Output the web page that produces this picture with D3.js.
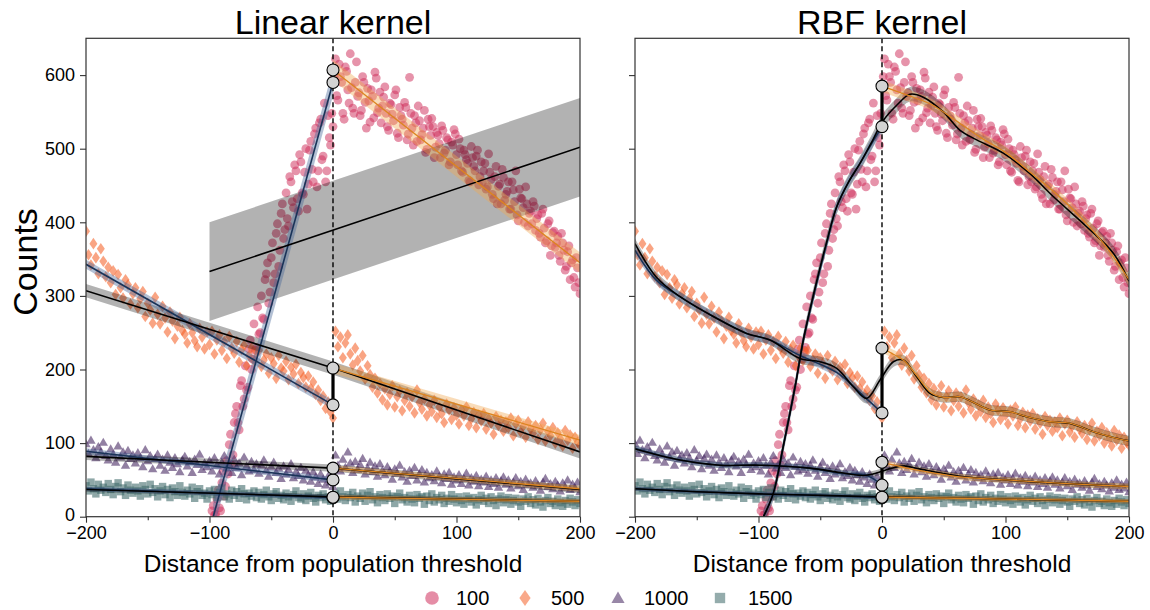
<!DOCTYPE html>
<html><head><meta charset="utf-8">
<script src="https://cdn.jsdelivr.net/npm/d3@7"></script>
<style>body{margin:0;background:#fff}svg{font-family:"Liberation Sans",Arial,sans-serif}</style>
</head><body><svg id="c" width="1150" height="610"></svg>
<script>
// ---------- data ----------
const seriesNames = ["100", "500", "1000", "1500"];
const seriesColors = ["#cf2f5c", "#f4632a", "#44255f", "#3d6868"];
const xTicks = [-200, -100, 0, 100, 200];
const xMinorTicks = [-150, -50, 50, 150];
const yTicks = [0, 100, 200, 300, 400, 500, 600];
const panelTitles = ["Linear kernel", "RBF kernel"];

const dist100 = d3.range(-98, 201, 2);
const dist100Odd = d3.range(-97, 200, 2);
const distAll = d3.range(-200, 201, 2);

const counts100 = [8,2,24,12,46,28,76,98,70,128,
 150,118,185,160,172,228,200,262,230,248,
 300,268,330,290,352,318,385,340,412,378,
 440,395,455,420,470,415,482,438,500,452,
 510,455,528,470,540,490,455,545,505,530,
 622,566,598,548,611,580,629,555,590,571,
 545,598,563,582,536,571,604,549,577,558,
 584,530,562,547,573,521,556,540,563,512,
 597,528,545,510,538,519,552,499,530,541,
 488,522,507,531,494,515,478,509,526,492,
 513,470,498,485,457,503,476,490,451,482,
 470,445,493,458,432,476,449,425,461,438,
 455,418,444,470,402,433,420,448,395,415,
 428,389,410,380,418,372,398,355,386,366,
 381,347,372,335,360,322,349,312,338,303];

const counts100Odd = [15,3,36,8,62,41,58,112,84,140,
 128,178,150,205,176,240,214,226,285,250,
 270,322,345,305,372,330,398,362,425,390,
 405,462,428,478,432,492,440,468,418,498,
 472,520,448,535,485,562,470,515,548,
 598,572,615,590,540,605,562,583,548,618,
 576,552,590,528,565,580,542,596,555,535,
 570,548,525,560,538,580,515,545,532,556,
 520,548,505,535,558,512,528,495,540,518,
 530,502,518,488,525,498,512,482,505,520,
 478,500,468,492,480,455,488,470,498,462,
 455,480,448,468,438,462,425,452,472,430,
 442,418,455,428,410,445,432,400,425,412,
 398,422,405,385,412,392,375,402,368,388,
 372,355,385,362,340,368,345,325,352,318];

const counts500 = [388,356,342,371,352,330,364,347,326,339,
 318,334,302,329,311,297,322,315,289,303,
 311,284,296,306,272,290,281,263,298,275,
 262,286,270,251,278,266,242,259,271,253,
 248,236,262,250,239,231,256,244,228,251,
 234,252,221,240,247,226,238,215,245,229,
 222,238,210,227,233,205,219,229,212,224,
 226,204,213,221,195,216,208,188,219,202,
 198,211,186,203,194,207,181,196,189,176,
 191,174,183,166,172,158,164,147,156,142,
 134,
 252,231,244,216,236,247,221,206,229,212,
 198,219,187,205,193,176,188,168,181,159,
 174,152,166,178,149,163,171,144,158,168,
 150,163,141,172,155,146,160,137,152,143,
 158,135,149,140,128,153,145,132,148,138,
 126,145,137,149,124,133,142,121,138,130,
 140,119,133,127,112,136,124,131,116,129,
 121,134,110,126,131,115,123,108,129,119,
 113,124,105,118,127,103,116,110,121,100,
 114,106,96,117,104,111,93,108,101,97];

const counts1000 = [99,86,104,91,80,95,88,101,83,77,
 92,85,74,96,81,88,70,90,79,84,
 73,87,80,68,91,76,83,65,79,85,
 70,78,63,84,74,67,80,72,61,77,
 82,69,75,60,78,71,85,64,73,68,
 76,62,80,70,58,74,83,66,71,60,
 78,67,73,57,81,69,62,75,64,72,
 59,70,77,63,55,68,74,60,66,52,
 69,58,64,72,53,61,56,67,50,63,
 57,48,61,54,45,58,51,43,55,47,
 41,
 84,70,62,78,67,88,73,60,75,64,
 71,79,58,66,74,61,69,55,72,63,
 57,68,62,51,65,59,70,54,61,48,
 63,56,67,50,58,64,47,60,53,57,
 49,62,55,46,58,52,60,44,54,50,
 57,45,52,59,43,53,48,56,42,51,
 47,55,41,50,45,53,40,49,54,44,
 50,39,47,53,42,48,37,51,44,46,
 40,49,43,36,47,52,41,45,38,48,
 43,35,46,40,50,37,44,39,47,34];

const counts1500 = [42,35,47,38,31,44,36,40,33,45,
 37,30,41,46,34,39,29,43,36,32,
 40,35,28,42,37,31,44,33,38,27,
 35,41,30,37,26,39,34,29,42,33,
 28,36,31,40,25,34,38,29,32,24,
 35,30,37,26,33,39,27,31,24,36,
 29,34,25,38,31,23,32,28,35,26,
 33,24,30,36,27,22,31,34,25,29,
 23,32,27,21,30,35,26,24,31,22,
 28,33,25,20,29,26,31,23,27,21,
 25,
 31,24,35,27,22,30,26,33,20,28,
 25,32,21,29,34,23,27,19,30,26,
 22,31,25,28,18,27,32,23,26,20,
 29,24,19,30,25,27,17,28,22,31,
 20,26,23,29,18,25,21,30,24,19,
 27,22,17,28,24,20,26,16,23,29,
 21,25,18,27,22,15,24,28,19,23,
 26,17,22,25,20,14,24,21,27,18,
 23,16,25,20,13,22,26,18,21,15,
 24,19,14,22,17,25,20,15,23,18];

// Linear-kernel fits: [distance, count]
const linLeft100 = [[-97,0],[0,590]];
const linRight100 = [[0,607],[200,345]];
const linGlobal100 = [[-100,333],[200,502]];
const linLeft500 = [[-200,343],[0,152]];
const linRight500 = [[0,202],[200,104]];
const linGlobal500 = [[-200,307],[0,202],[200,88]];
const linLeft1000 = [[-200,89],[0,50]];
const linRight1000 = [[0,66],[200,38]];
const linGlobal1000 = [[-200,82],[0,66],[200,37]];
const linLeft1500 = [[-200,38],[0,26]];
const linRight1500 = [[0,26.5],[200,21]];
const linGlobal1500 = [[-200,37],[0,27],[200,21]];
const linBandLeft = [18, 6, 4, 3];
const linBandRight = [14, 7, 4, 3];
const linBandGlobal = [67, 9, 5, 3];

// RBF-kernel fits
const rbfLeft100 = [[-96,0],[-88,32],[-80,95],[-70,180],[-63.7,240],[-54,310],[-45,370],[-36.7,421],[-27,455],[-17.8,480],[-8,508],[0,530]];
const rbfRight100 = [[0,585],[20,573],[40,560],[60,538],[80,515],[100,495],[120,468],[140,440],[160,408],[180,370],[200,322]];
const rbfGlobal100 = [[-96,0],[-88,32],[-80,95],[-70,180],[-63.7,240],[-54.3,310],[-45,372],[-36.7,421],[-27,455],[-17.8,480],[-8,510],[0.5,537],[11.9,559],[22.7,574],[33.4,570],[49.6,550],[63.2,525],[76.7,512],[98.2,494],[119.8,466],[138.7,435],[165.7,394],[187.3,358],[200,320]];
const rbfLeft500 = [[-200,362],[-182.5,321],[-163.6,299],[-136.6,272],[-109.6,249],[-90.7,240],[-66.4,219],[-36.7,196],[-12.4,160],[0,141]];
const rbfRight500 = [[0,229],[10,220],[18,212],[28,192],[40,168],[50,162],[63,163],[72,157],[87.5,145],[103.6,142.6],[117,136],[136,129],[152,127],[171,115.5],[190,106.5],[200,103]];
const rbfGlobal500 = [[-200,371],[-182.5,325],[-163.6,299],[-136.6,272],[-109.6,249],[-90.7,240],[-66.4,215],[-50.2,210.5],[-36.7,201.5],[-23.2,176.6],[-12.4,160.8],[-1.6,185.7],[9.2,210.5],[17.3,212.8],[28.1,190],[38.9,167.6],[49.6,162],[63.2,163],[71.3,157.6],[87.5,145],[103.6,142.6],[117.2,135.8],[136,129],[152.2,126.8],[171.1,115.5],[190,106.5],[200,103]];
const rbfLeft1000 = [[-200,93],[-163.6,77],[-131.2,70],[-98.8,70],[-58.3,65.7],[-34,59],[-12.4,56],[0,43]];
const rbfRight1000 = [[0,74],[20,66],[40,60],[63,54],[100,50],[150,45],[200,41]];
const rbfGlobal1000 = [[-200,92],[-163.6,77],[-131.2,70],[-98.8,70],[-58.3,66],[-34,60],[-15,56],[-3,60],[8,66],[18,69],[30,65],[63,55],[100,50],[150,45],[200,41]];
const rbfLeft1500 = [[-200,38],[-150,34],[-100,31],[-50,29],[0,26]];
const rbfRight1500 = [[0,26.5],[100,24],[200,21]];
const rbfGlobal1500 = [[-200,38],[-150,34],[-100,31],[-50,29],[0,27],[100,24],[200,21]];
const rbfBandLeft = [8, 6, 4, 3];
const rbfBandRight = [8, 6, 4, 3];
const rbfBandGlobal = [10, 7, 4, 3];

// ---------- layout ----------
const svg = d3.select("#c");
const yTop = 38.3, yBot = 516.7;
const y = d3.scaleLinear([0, 650], [yBot, yTop]);
const FONT = '"Liberation Sans", Arial, sans-serif';

const seriesPoints = [
  dist100.map((d, i) => [d, counts100[i]]).concat(dist100Odd.map((d, i) => [d, counts100Odd[i]])),
  distAll.map((d, i) => [d, counts500[i]]),
  distAll.map((d, i) => [d, counts1000[i]]),
  distAll.map((d, i) => [d, counts1500[i]])
];

function shapePath(i, s) {
  s = s || 1;
  if (i === 0) return d3.symbol(d3.symbolCircle, Math.PI * (4.4 * s) ** 2)();
  if (i === 1) return `M0,${-5.8*s}L${4*s},0L0,${5.8*s}L${-4*s},0Z`;
  if (i === 2) return `M0,${-4.7*s}L${4.7*s},${3.5*s}L${-4.7*s},${3.5*s}Z`;
  return `M${-3.7*s},${-3.7*s}h${7.4*s}v${7.4*s}h${-7.4*s}Z`;
}

const panels = [
  { id: 0, left: 86, right: 580, labels: true, curve: d3.curveLinear,
    L: [linLeft100, linLeft500, linLeft1000, linLeft1500],
    R: [linRight100, linRight500, linRight1000, linRight1500],
    G: [linGlobal100, linGlobal500, linGlobal1000, linGlobal1500],
    bL: linBandLeft, bR: linBandRight, bG: linBandGlobal },
  { id: 1, left: 635, right: 1129, labels: false, curve: d3.curveCatmullRom.alpha(0.5),
    L: [rbfLeft100, rbfLeft500, rbfLeft1000, rbfLeft1500],
    R: [rbfRight100, rbfRight500, rbfRight1000, rbfRight1500],
    G: [rbfGlobal100, rbfGlobal500, rbfGlobal1000, rbfGlobal1500],
    bL: rbfBandLeft, bR: rbfBandRight, bG: rbfBandGlobal }
];

const defs = svg.append("defs");

panels.forEach(p => {
  const x = d3.scaleLinear([-200, 200], [p.left, p.right]);
  const cid = "clip" + p.id;
  defs.append("clipPath").attr("id", cid).append("rect")
    .attr("x", p.left).attr("y", yTop).attr("width", p.right - p.left).attr("height", yBot - yTop);
  const g = svg.append("g");
  const plot = g.append("g").attr("clip-path", `url(#${cid})`);

  // scatter
  seriesPoints.forEach((pts, i) => {
    plot.append("g").selectAll("path").data(pts).join("path")
      .attr("d", shapePath(i))
      .attr("transform", d => `translate(${x(d[0])},${y(d[1])})`)
      .attr("fill", seriesColors[i]).attr("fill-opacity", i === 0 ? 0.52 : 0.58);
  });

  const band = hw => d3.area().x(d => x(d[0])).y0(d => y(d[1] - hw)).y1(d => y(d[1] + hw)).curve(p.curve);
  const line = d3.line().x(d => x(d[0])).y(d => y(d[1])).curve(p.curve);

  // bands
  p.G.forEach((f, i) => plot.append("path").attr("d", band(p.bG[i])(f)).attr("fill", "#000").attr("fill-opacity", 0.3));
  p.L.forEach((f, i) => plot.append("path").attr("d", band(p.bL[i])(f)).attr("fill", "#4a6a99").attr("fill-opacity", 0.42));
  p.R.forEach((f, i) => plot.append("path").attr("d", band(p.bR[i])(f)).attr("fill", "#f0a850").attr("fill-opacity", 0.4));

  // lines
  p.L.forEach(f => plot.append("path").attr("d", line(f)).attr("fill", "none").attr("stroke", "#1a3358").attr("stroke-width", 1.6));
  p.G.forEach(f => plot.append("path").attr("d", line(f)).attr("fill", "none").attr("stroke", "#000").attr("stroke-width", 1.6));
  p.R.forEach(f => plot.append("path").attr("d", line(f)).attr("fill", "none").attr("stroke", "#dc8420").attr("stroke-width", 1.3));

  // dashed cutoff
  plot.append("line").attr("x1", x(0)).attr("x2", x(0)).attr("y1", yTop).attr("y2", yBot)
    .attr("stroke", "#000").attr("stroke-width", 1.4).attr("stroke-dasharray", "5,3");

  // jumps
  p.L.forEach((f, i) => {
    const a = f[f.length - 1][1], b = p.R[i][0][1];
    plot.append("line").attr("x1", x(0)).attr("x2", x(0)).attr("y1", y(a)).attr("y2", y(b))
      .attr("stroke", "#000").attr("stroke-width", 3.2);
  });
  p.L.forEach((f, i) => {
    [f[f.length - 1][1], p.R[i][0][1]].forEach(v => {
      plot.append("circle").attr("cx", x(0)).attr("cy", y(v)).attr("r", 6)
        .attr("fill", "#d3d3d3").attr("stroke", "#000").attr("stroke-width", 1.1);
    });
  });

  // axes
  const xa = g.append("g").attr("transform", `translate(0,${yBot})`)
    .call(d3.axisBottom(x).tickValues(xTicks).tickSize(6).tickPadding(4).tickSizeOuter(0));
  xa.selectAll("text").attr("font-size", 18).attr("font-family", FONT).attr("fill", "#000");
  g.append("g").attr("transform", `translate(0,${yBot})`)
    .call(d3.axisBottom(x).tickValues(xMinorTicks).tickSize(3.5).tickFormat("").tickSizeOuter(0));
  const ya = g.append("g").attr("transform", `translate(${p.left},0)`)
    .call(d3.axisLeft(y).tickValues(yTicks).tickSize(6).tickPadding(5).tickSizeOuter(0)
      .tickFormat(p.labels ? d3.format("d") : ""));
  ya.selectAll("text").attr("font-size", 18).attr("font-family", FONT).attr("fill", "#000");
  ya.selectAll(".tick").filter(d => d === 0).select("text").attr("dy", "0.22em");
  g.selectAll(".domain").remove();
  g.selectAll(".tick line").attr("stroke", "#333").attr("stroke-width", 1.1);

  // frame
  g.append("rect").attr("x", p.left).attr("y", yTop).attr("width", p.right - p.left).attr("height", yBot - yTop)
    .attr("fill", "none").attr("stroke", "#333").attr("stroke-width", 1.2);

  // titles
  const cx = (p.left + p.right) / 2;
  g.append("text").attr("x", cx).attr("y", 34).attr("text-anchor", "middle")
    .attr("font-size", 34).attr("font-family", FONT).text(panelTitles[p.id]);
  g.append("text").attr("x", cx).attr("y", 572).attr("text-anchor", "middle")
    .attr("font-size", 24.5).attr("font-family", FONT).text("Distance from population threshold");
});

// y label
svg.append("text").attr("transform", "translate(37,262) rotate(-90)").attr("text-anchor", "middle")
  .attr("font-size", 34).attr("font-family", FONT).text("Counts");

// legend
const legX = [432, 525, 618, 720];
const legTX = [456, 551, 644, 748];
const leg = svg.append("g");
seriesNames.forEach((n, i) => {
  leg.append("path").attr("d", shapePath(i, i === 0 ? 1.55 : 1.4))
    .attr("transform", `translate(${legX[i]},${598})`)
    .attr("fill", seriesColors[i]).attr("fill-opacity", 0.55);
  leg.append("text").attr("x", legTX[i]).attr("y", 605).attr("font-size", 20).attr("font-family", FONT).text(n);
});
</script>
</body></html>
